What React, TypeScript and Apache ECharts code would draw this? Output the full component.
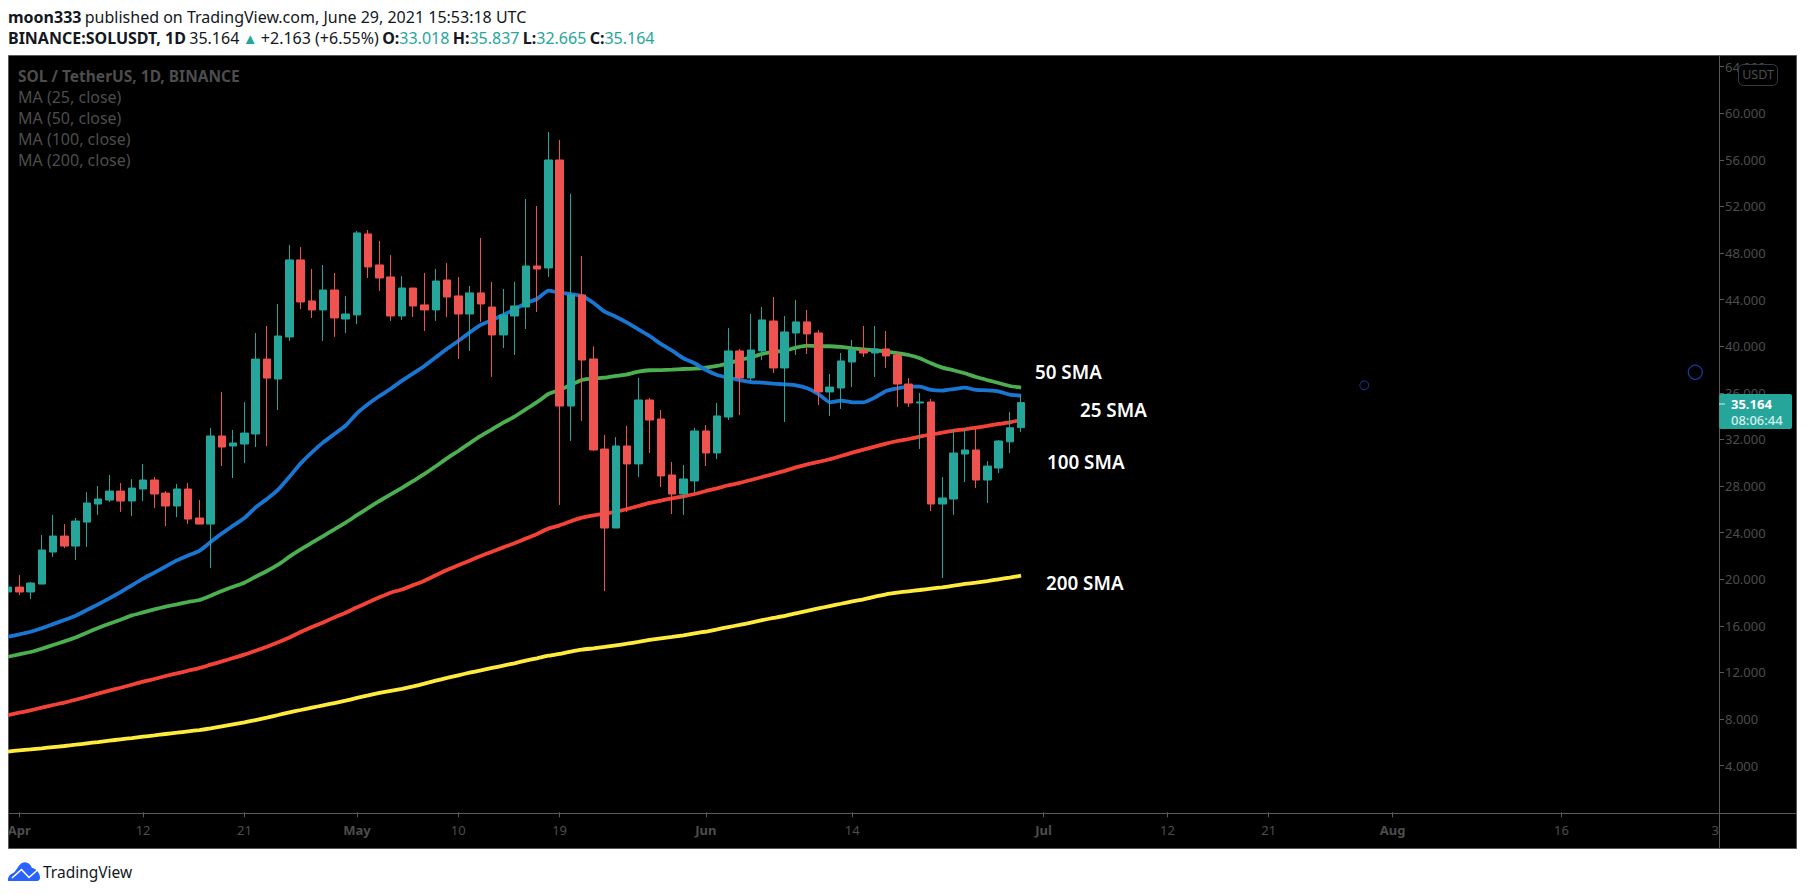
import React, { useEffect, useRef } from "react";
import * as echarts from "echarts";

const opens = [18.91,19.33,18.91,19.59,22.34,23.71,22.85,24.91,26.46,26.8,27.57,26.72,27.75,28.52,27.4,26.29,27.75,25.26,24.74,32.3,31.44,31.61,32.47,38.9,37.19,40.8,47.41,43.89,43.12,44.83,42.34,42.69,49.64,46.98,45.95,42.6,45.0,43.55,43.12,45.69,44.32,42.77,44.58,43.37,40.97,42.6,43.37,46.89,46.72,55.99,34.87,44.4,38.91,31.18,24.4,31.44,29.9,35.39,33.76,28.95,27.32,28.44,32.73,30.84,33.93,39.6,37.28,39.6,42.17,38.14,41.14,42.09,41.14,36.08,36.42,38.65,39.68,39.42,39.77,39.25,36.76,35.13,35.22,26.46,26.89,30.75,31.1,28.52,29.55,31.8,33.018];
const closes = [19.33,18.91,19.68,22.51,23.71,22.85,25.0,26.55,26.89,27.57,26.72,27.83,28.52,27.32,26.29,27.75,25.17,24.74,32.3,31.35,31.7,32.55,38.9,37.27,40.88,47.41,43.8,43.12,44.83,42.43,42.77,49.73,46.81,45.86,42.6,45.0,43.46,43.12,45.6,44.23,42.77,44.58,43.63,40.97,42.69,43.46,46.89,46.63,55.99,34.87,44.4,38.82,31.1,24.4,31.44,29.9,35.39,33.67,28.87,27.32,28.61,32.73,30.84,34.02,39.6,37.28,39.68,42.26,38.14,41.23,42.09,41.06,36.08,36.5,38.74,39.68,39.42,39.77,39.17,36.76,35.13,35.22,26.46,26.98,30.84,31.1,28.52,29.72,31.87,33.0,35.164];
const highs = [19.4,20.37,19.76,23.8,25.52,24.74,25.26,27.49,28.0,28.95,28.26,28.6,29.9,28.78,27.57,28.18,28.26,26.8,32.98,36.07,32.81,35.2,41.14,41.74,43.63,48.7,48.52,46.64,46.98,46.29,44.32,49.9,49.98,49.04,47.84,46.03,45.0,46.29,46.64,47.15,45.95,45.18,49.3,45.52,44.92,45.52,52.64,52.04,58.39,57.71,53.07,47.75,40.0,32.39,32.2,33.16,37.28,35.56,34.53,30.07,29.81,32.99,33.24,35.13,41.57,39.77,42.77,43.37,44.23,42.6,43.97,43.12,41.4,37.62,39.42,40.54,41.74,41.74,41.31,39.51,37.28,36.0,35.48,28.78,32.9,32.99,32.9,30.15,31.96,34.36,35.837];
const lows = [18.9,18.65,18.3,19.59,21.91,22.68,21.65,22.77,25.52,26.63,25.77,25.43,26.72,26.12,24.57,25.34,24.74,24.74,20.97,29.72,28.69,29.98,31.35,31.44,34.53,40.46,43.2,42.43,40.46,40.8,41.14,41.91,45.86,44.75,42.17,42.26,42.52,41.31,42.17,42.52,38.91,39.6,42.09,37.37,39.85,39.25,41.48,42.94,45.95,26.38,31.87,33.59,31.0,18.99,24.4,25.78,28.78,30.84,27.92,25.6,25.52,27.41,29.72,30.32,33.67,34.1,37.02,38.82,37.71,33.5,39.25,39.34,34.96,34.02,34.62,36.5,39.08,37.36,38.14,34.79,34.79,31.18,25.86,20.11,25.52,28.35,27.84,26.55,29.12,30.84,32.665];

const sma25 = [15.07,15.27,15.5,15.8,16.15,16.5,16.87,17.36,17.85,18.36,18.9,19.48,20.05,20.57,21.1,21.62,22.05,22.43,23.2,23.94,24.6,25.26,26.17,26.89,27.7,28.8,29.95,30.9,31.75,32.47,33.2,34.24,35.04,35.73,36.35,37.05,37.68,38.31,39.05,39.78,40.45,41.17,41.83,42.25,42.69,43.17,43.69,44.06,44.77,44.6,44.49,44.32,43.74,42.97,42.54,42.03,41.45,40.88,40.2,39.62,38.97,38.54,37.96,37.54,37.3,37.1,36.93,36.88,36.79,36.73,36.65,36.39,35.9,35.19,35.33,35.19,35.19,35.59,36.16,36.39,36.53,36.53,36.25,36.19,36.33,36.45,36.25,36.22,36.13,35.85,35.76];
const sma50 = [13.35,13.56,13.76,14.04,14.36,14.67,15.0,15.42,15.82,16.19,16.53,16.9,17.16,17.42,17.65,17.85,18.05,18.22,18.59,19.0,19.36,19.71,20.22,20.71,21.25,21.94,22.57,23.14,23.71,24.29,24.86,25.5,26.12,26.72,27.28,27.84,28.44,29.04,29.7,30.38,31.01,31.67,32.3,32.87,33.44,33.96,34.59,35.2,35.9,36.25,36.68,37.11,37.25,37.3,37.45,37.59,37.82,37.94,37.96,37.99,38.05,38.08,38.17,38.31,38.54,38.82,39.05,39.34,39.51,39.62,39.88,40.05,40.0,40.0,39.94,39.82,39.74,39.65,39.54,39.42,39.25,38.97,38.54,38.17,37.94,37.68,37.36,37.1,36.85,36.59,36.45];
const sma100 = [8.35,8.55,8.75,8.98,9.21,9.41,9.66,9.92,10.18,10.44,10.69,10.95,11.21,11.44,11.7,11.92,12.15,12.38,12.67,12.95,13.24,13.53,13.87,14.21,14.59,15.01,15.47,15.9,16.3,16.73,17.13,17.6,18.02,18.45,18.85,19.12,19.5,19.88,20.35,20.8,21.2,21.6,22.0,22.37,22.74,23.09,23.49,23.89,24.35,24.63,24.98,25.29,25.49,25.63,25.8,26.03,26.29,26.55,26.75,26.95,27.12,27.32,27.58,27.81,28.07,28.27,28.52,28.78,29.04,29.3,29.6,29.87,30.07,30.3,30.58,30.87,31.13,31.38,31.64,31.87,32.04,32.24,32.44,32.59,32.76,32.87,33.02,33.16,33.33,33.47,33.67];
const sma200 = [5.2,5.32,5.4,5.49,5.6,5.69,5.8,5.92,6.03,6.15,6.26,6.37,6.49,6.6,6.72,6.83,6.95,7.06,7.2,7.37,7.55,7.72,7.92,8.12,8.35,8.58,8.78,8.98,9.18,9.38,9.58,9.82,10.03,10.25,10.43,10.6,10.81,11.04,11.3,11.53,11.76,11.98,12.18,12.39,12.59,12.79,13.02,13.22,13.44,13.59,13.79,13.96,14.07,14.19,14.33,14.47,14.62,14.79,14.93,15.05,15.19,15.36,15.5,15.7,15.9,16.08,16.28,16.5,16.68,16.85,17.08,17.28,17.5,17.7,17.9,18.1,18.28,18.51,18.71,18.85,18.97,19.08,19.2,19.31,19.45,19.6,19.71,19.85,20.0,20.14,20.31];

// One slot per day, Mar 31 to Aug 30; the chart's future space holds no marks.
const dayCount = 153;
const dateTicks: [number, string][] = [[1,"Apr"],[12,"12"],[21,"21"],[31,"May"],[40,"10"],[49,"19"],[62,"Jun"],[75,"14"],[92,"Jul"],[103,"12"],[112,"21"],[123,"Aug"],[138,"16"],[152,"3"]];
const priceTicks = [4,8,12,16,20,24,28,32,36,40,44,48,52,56,60,64];
const legendLines = ["MA (25, close)", "MA (50, close)", "MA (100, close)", "MA (200, close)"];
const smaLabels: [string, number, number][] = [["50 SMA",1035,372],["25 SMA",1080,410],["100 SMA",1047,462],["200 SMA",1046,583]];

const categories = Array.from({ length: dayCount }, (_, i) => String(i));
const tickMap = new Map(dateTicks);
const isMonth = (s: string) => /^[A-Z]/.test(s);

const FONT = '"Noto Sans", sans-serif';
const GRAY = "#4d4d4d";
const LINEC = "#5a5a5a";
const UP = "#26a69a";
const DOWN = "#ef5350";

const CLOUD = "M0 19 C-0.5 15 2 12 6 10.5 C8 9 10 3.5 14 1 C18 -1 22 1 24 6 C28 6.5 32 11 32 15.5 C32 17.5 31 19 29 19 Z";

function line(name: string, data: number[], color: string) {
  return { name, type: "line", data, showSymbol: false, symbol: "none", z: 1, clip: true, smooth: 0.15,
    lineStyle: { color, width: 3.8 }, emphasis: { disabled: true } };
}

export default function App() {
  const ref = useRef<HTMLDivElement>(null);
  useEffect(() => {
    if (!ref.current) return;
    echarts.graphic.registerShape("tvLogo", echarts.graphic.extendPath(CLOUD, {}));
    const chart = echarts.init(ref.current, undefined, { renderer: "svg" });
    const dark = "#131722";
    const fs = 16;
    const graphic: any[] = [
      { type: "rect", z: -10, silent: true, shape: { x: 8.5, y: 55.5, width: 1788, height: 793 }, style: { fill: "#000", stroke: LINEC, lineWidth: 1 } },
      { type: "rect", z: 20, silent: true, shape: { x: 0, y: 55, width: 8, height: 794 }, style: { fill: "#fff" } },
      { type: "line", z: 1, silent: true, shape: { x1: 1719.5, y1: 55, x2: 1719.5, y2: 848 }, style: { stroke: LINEC, lineWidth: 1 } },
      { type: "line", z: 1, silent: true, shape: { x1: 8, y1: 813.5, x2: 1797, y2: 813.5 }, style: { stroke: LINEC, lineWidth: 1 } },
      { type: "text", z: 5, x: 8, y: 17, style: { text: "{b|moon333} {n|published on TradingView.com, June 29, 2021 15:53:18 UTC}", verticalAlign: "middle",
          rich: { b: { fontFamily: FONT, fontSize: fs, fontWeight: "bold", fill: dark }, n: { fontFamily: FONT, fontSize: fs, fill: dark } } } },
      { type: "text", z: 5, x: 8, y: 38, style: { text: "{b|BINANCE:SOLUSDT, 1D} {n|35.164} {g|▲} {n|+2.163 (+6.55%)} {b|O:}{t|33.018} {b|H:}{t|35.837} {b|L:}{t|32.665} {b|C:}{t|35.164}", verticalAlign: "middle",
          rich: { b: { fontFamily: FONT, fontSize: fs, fontWeight: "bold", fill: dark }, n: { fontFamily: FONT, fontSize: fs, fill: dark }, t: { fontFamily: FONT, fontSize: fs, fill: UP }, g: { fontFamily: FONT, fontSize: 15, fill: UP } } } },
      { type: "text", z: 5, x: 18, y: 76, style: { text: "SOL / TetherUS, 1D, BINANCE", fontFamily: FONT, fontSize: 15.5, fontWeight: "bold", fill: GRAY, verticalAlign: "middle" } },
      ...legendLines.map((t, i) => ({ type: "text", z: 5, x: 18, y: 97 + i * 21, style: { text: t, fontFamily: FONT, fontSize: 16, fill: GRAY, verticalAlign: "middle" } })),
      ...smaLabels.map(([t, x, y]) => ({ type: "text", z: 6, x, y, style: { text: t, fontFamily: FONT, fontSize: 18.8, fontWeight: 600, fill: "#fff", verticalAlign: "middle" } })),
      { type: "circle", z: 6, silent: true, shape: { cx: 1364.3, cy: 385.3, r: 4.4 }, style: { fill: "none", stroke: "#1b3aa8", lineWidth: 1 } },
      { type: "circle", z: 6, silent: true, shape: { cx: 1695.3, cy: 372.3, r: 7 }, style: { fill: "none", stroke: "#1b3aa8", lineWidth: 1.2 } },
      { type: "rect", z: 8, silent: true, shape: { x: 1738.5, y: 64.5, width: 39, height: 21, r: 5 }, style: { fill: "#000", stroke: "#363a45", lineWidth: 1 } },
      { type: "text", z: 9, x: 1758, y: 74.5, style: { text: "USDT", fontFamily: FONT, fontSize: 12.5, fill: GRAY, align: "center", verticalAlign: "middle" } },
      { type: "rect", z: 8, silent: true, shape: { x: 1719, y: 394, width: 73, height: 35, r: 2 }, style: { fill: UP } },
      { type: "line", z: 9, silent: true, shape: { x1: 1719, y1: 404, x2: 1725, y2: 404 }, style: { stroke: "#d8f0ee", lineWidth: 1 } },
      { type: "text", z: 9, x: 1731, y: 404, style: { text: "35.164", fontFamily: FONT, fontSize: 13, fontWeight: "bold", fill: "#fff", verticalAlign: "middle" } },
      { type: "text", z: 9, x: 1731, y: 420, style: { text: "08:06:44", fontFamily: FONT, fontSize: 13, fontWeight: 500, fill: "#d4eeeb", verticalAlign: "middle" } },
      { type: "tvLogo", z: 5, silent: true, x: 8, y: 862, style: { fill: "#2962ff" } },
      { type: "polyline", z: 6, silent: true, x: 8, y: 862, shape: { points: [[4, 16], [13.5, 7.5], [21, 15.5], [29.5, 8]] }, style: { stroke: "#fff", fill: "none", lineWidth: 1.6 } },
      { type: "text", z: 5, x: 43, y: 871.5, style: { text: "TradingView", fontFamily: FONT, fontSize: 15.5, fill: "#131722", verticalAlign: "middle" } },
    ];

    chart.setOption({
      animation: false,
      backgroundColor: "#ffffff",
      tooltip: { show: false },
      grid: { left: 8, top: 55, width: 1711, height: 757.3, containLabel: false },
      xAxis: {
        type: "category",
        data: categories,
        boundaryGap: false,
        axisLine: { show: false },
        axisTick: { show: true, length: 5, inside: false, alignWithLabel: true, lineStyle: { color: LINEC },
          interval: (i: number) => tickMap.has(i) },
        axisLabel: {
          show: true, margin: 11, fontFamily: FONT, fontSize: 13, color: GRAY,
          interval: (i: number) => tickMap.has(i),
          showMaxLabel: true, alignMaxLabel: "right",
          formatter: (_v: string, i: number) => {
            const s = tickMap.get(i) ?? "";
            return isMonth(s) ? `{m|${s}}` : s;
          },
          rich: { m: { fontFamily: FONT, fontSize: 13, fontWeight: "bold", color: GRAY } },
        },
        splitLine: { show: false },
      },
      yAxis: {
        type: "value", position: "right", min: 0, max: 65, scale: false,
        axisLine: { show: false },
        axisTick: { show: true, length: 5, lineStyle: { color: LINEC }, customValues: priceTicks },
        axisLabel: { show: true, margin: 6, fontFamily: FONT, fontSize: 13, color: GRAY, customValues: priceTicks,
          formatter: (v: number) => v.toFixed(3) },
        splitLine: { show: false },
      },
      graphic,
      series: [
        line("MA 200", sma200, "#ffeb3b"),
        line("MA 100", sma100, "#f44336"),
        line("MA 50", sma50, "#4caf50"),
        line("MA 25", sma25, "#1976d2"),
        {
          name: "SOLUSDT", type: "candlestick", z: 3, clip: true, barWidth: 8,
          data: opens.map((o, i) => [o, closes[i], lows[i], highs[i]]),
          itemStyle: { color: UP, color0: DOWN, borderColor: UP, borderColor0: DOWN, borderWidth: 1 },
        },
      ],
    });
    return () => chart.dispose();
  }, []);
  return <div ref={ref} style={{ position: "absolute", left: 0, top: 0, width: 1805, height: 895 }} />;
}
